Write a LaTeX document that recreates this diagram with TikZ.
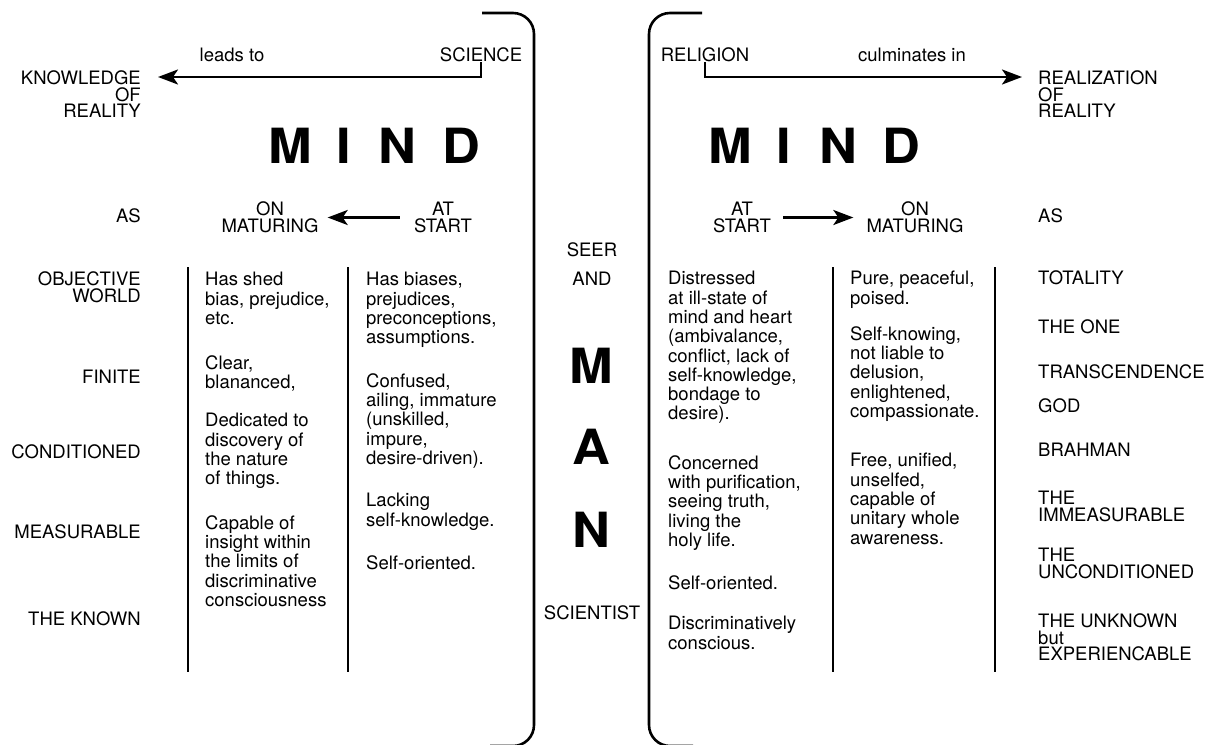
\documentclass[tikz,border=0pt]{standalone}
\usepackage{fontspec}
\setmainfont{TeX Gyre Heros}
\newfontfamily\bigfont[FakeStretch=1.08]{TeX Gyre Heros}
\usetikzlibrary{arrows.meta}
\newcommand{\colrule}[1]{ \draw[rule] ( #1 , 267 ) -- ( #1 , 672 );}

\begin{document}
\begin{tikzpicture}[x=1pt,y=-1pt,
    rule/.style={line width=2.6pt},
    arr/.style={line width=2.6pt,-{Stealth[length=20pt,width=15pt,inset=5pt]}},
    lbl/.style={inner sep=0pt,font=\fontsize{18.5}{16.8}\selectfont},
    pairlbl/.style={inner sep=0pt,align=center,font=\fontsize{18.5}{16.6}\selectfont},
    txt/.style={inner sep=0pt,anchor=north west,align=left,font=\fontsize{18.5}{19.3}\selectfont},
    bigletter/.style={inner sep=0pt,font=\bigfont\fontsize{48.5}{48.5}\selectfont\bfseries}]
        \useasboundingbox (0,0) rectangle (1220,744);
        % brackets
        \draw[rule,rounded corners=21pt] (482,13) -- (534,13) -- (534,746) -- (490,746);
        \draw[rule,rounded corners=21pt] (702,13) -- (649,13) -- (649,746) -- (693,746);
        % column rules
        \colrule{188}
        \colrule{348}
        \colrule{833}
        \colrule{995}
        % top left
        \node[lbl] (science) at (481,55) {SCIENCE};
        \node[lbl] (leads) at (232,55) {leads to};
        \node[lbl,anchor=north east,align=right] (knowledge) at (141,70.3) {KNOWLEDGE\\OF\\REALITY};
        \draw[arr] (science.south) |- ([xshift=17pt,yshift=-6.7pt]knowledge.north east);
        % top right
        \node[lbl] (religion) at (705,55) {RELIGION};
        \node[lbl] (culminates) at (912,55) {culminates in};
        \node[lbl,anchor=north west,align=left] (realization) at (1038,70.3) {REALIZATION\\OF\\REALITY};
        \draw[arr] (religion.south) |- ([xshift=-16pt,yshift=-6.7pt]realization.north west);
        % mind left
        \node[bigletter] (mindLm) at (290,146) {M};
        \node[bigletter] (mindLi) at (344,146) {I};
        \node[bigletter] (mindLn) at (397,146) {N};
        \node[bigletter] (mindLd) at (461,146) {D};
        % mind right
        \node[bigletter] (mindRm) at (730,146) {M};
        \node[bigletter] (mindRi) at (784,146) {I};
        \node[bigletter] (mindRn) at (838,146) {N};
        \node[bigletter] (mindRd) at (901,146) {D};
        % as row
        \node[lbl,anchor=east] (asL) at (141,216) {AS};
        \node[pairlbl] (onL) at (270,217.5) {ON\\MATURING};
        \node[pairlbl] (atL) at (443,217.5) {AT\\START};
        \draw[arr,shorten <=14pt,shorten >=9pt] (atL) -- (onL);
        \node[pairlbl] (atR) at (742,217.5) {AT\\START};
        \node[pairlbl] (onR) at (915,217.5) {ON\\MATURING};
        \draw[arr,shorten <=12pt,shorten >=13pt] (atR) -- (onR);
        \node[lbl,anchor=west] (asR) at (1038,216) {AS};
        % left labels
        \node[lbl,anchor=north east,align=right] (objective) at (141,271.3) {OBJECTIVE\\WORLD};
        \node[lbl,anchor=east] (finite) at (141,377) {FINITE};
        \node[lbl,anchor=east] (conditioned) at (141,452) {CONDITIONED};
        \node[lbl,anchor=east] (measurable) at (141,532) {MEASURABLE};
        \node[lbl,anchor=east] (known) at (141,619) {THE KNOWN};
        % column 1
        \node[txt] (shed) at (205,272.2) {Has shed\\bias, prejudice,\\etc.};
        \node[txt] (clear) at (205,355.2) {Clear,\\blananced,};
        \node[txt] (dedicated) at (205,413.2) {Dedicated to\\discovery of\\the nature\\of things.};
        \node[txt] (capable) at (205,515.2) {Capable of\\insight within\\the limits of\\discriminative\\consciousness};
        % column 2
        \node[txt] (biases) at (366,272.2) {Has biases,\\prejudices,\\preconceptions,\\assumptions.};
        \node[txt] (confused) at (366,373.2) {Confused,\\ailing, immature\\(unskilled,\\impure,\\desire-driven).};
        \node[txt] (lacking) at (366,493.2) {Lacking\\self-knowledge.};
        \node[txt] (selfL) at (366,555.2) {Self-oriented.};
        % man
        \node[lbl] (seer) at (592,250) {SEER};
        \node[lbl] (and) at (592,279) {AND};
        \node[bigletter] (manm) at (591,365.5) {M};
        \node[bigletter] (mana) at (591,446.5) {A};
        \node[bigletter] (mann) at (591,529.5) {N};
        \node[lbl] (scientist) at (592,613) {SCIENTIST};
        % column 3
        \node[txt] (distressed) at (668,271.2) {Distressed\\at ill-state of\\mind and heart\\(ambivalance,\\conflict, lack of\\self-knowledge,\\bondage to\\desire).};
        \node[txt] (concerned) at (668,455.2) {Concerned\\with purification,\\seeing truth,\\living the\\holy life.};
        \node[txt] (selfR) at (668,575.2) {Self-oriented.};
        \node[txt] (discrim) at (668,616.2) {Discriminatively\\conscious.};
        % column 4
        \node[txt] (pure) at (850,271.2) {Pure, peaceful,\\poised.};
        \node[txt] (knowing) at (850,326.2) {Self-knowing,\\not liable to\\delusion,\\enlightened,\\compassionate.};
        \node[txt] (free) at (850,453.2) {Free, unified,\\unselfed,\\capable of\\unitary whole\\awareness.};
        % right labels
        \node[lbl,anchor=west] (totality) at (1038,278) {TOTALITY};
        \node[lbl,anchor=west] (theone) at (1038,327) {THE ONE};
        \node[lbl,anchor=west] (transcend) at (1038,372) {TRANSCENDENCE};
        \node[lbl,anchor=west] (god) at (1038,406) {GOD};
        \node[lbl,anchor=west] (brahman) at (1038,450) {BRAHMAN};
        \node[lbl,anchor=north west,align=left] (immeas) at (1038,491.3) {THE\\IMMEASURABLE};
        \node[lbl,anchor=north west,align=left] (uncond) at (1038,548.3) {THE\\UNCONDITIONED};
        \node[lbl,anchor=north west,align=left] (unknown) at (1038,613.3) {THE UNKNOWN\\but\\EXPERIENCABLE};
    \end{tikzpicture}
\end{document}
